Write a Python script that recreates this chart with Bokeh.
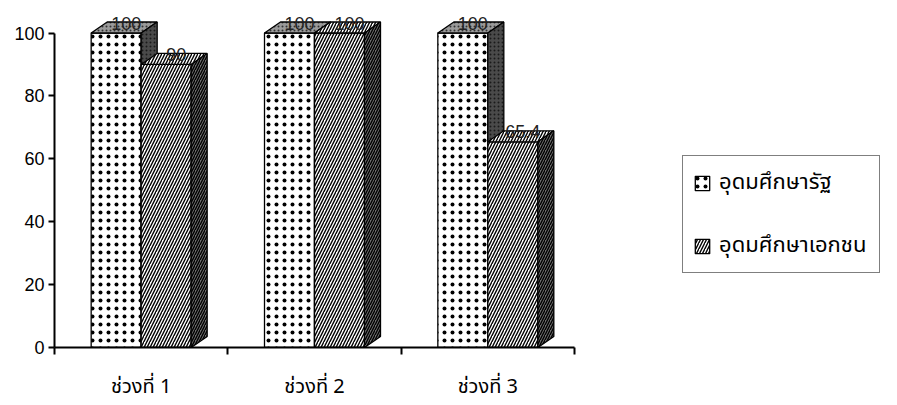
from bokeh.plotting import figure
from bokeh.models import Range1d, FixedTicker, Legend, LegendItem, ColumnDataSource, LinearAxis
from bokeh.embed import file_html
from bokeh.resources import INLINE
from bokeh.core.properties import value

# ---- data ----
categories = ["ช่วงที่ 1", "ช่วงที่ 2", "ช่วงที่ 3"]
public_values = [100, 100, 100]
private_values = [90, 100, 65.4]
series_names = ["อุดมศึกษารัฐ", "อุดมศึกษาเอกชน"]
y_ticks = [0, 20, 40, 60, 80, 100]

# ---- layout ----
W, H = 897, 405
BL, BB, BT, BR = 54, 58, 0, 0
FW, FH = W - BL - BR, H - BB - BT
PX_Y = 3.145                       # pixels per value unit
PX_X = 520 / len(categories)       # pixels per category
Y_END = FH / PX_Y
X_END = FW / PX_X
BAR_W = 50 / PX_X
DX = 16 / PX_X
DY = 11 / PX_Y

NUM_FONT = "'Liberation Sans', Arial, sans-serif"
THAI_FONT = "'Noto Sans Thai', 'Noto Sans', 'DejaVu Sans', sans-serif"

p = figure(width=W, height=H, x_range=Range1d(0, X_END), y_range=Range1d(0, Y_END),
           output_backend="svg", toolbar_location=None,
           min_border_left=BL, min_border_right=BR, min_border_top=BT, min_border_bottom=BB,
           x_axis_type=None, y_axis_type=None)
p.outline_line_color = None
p.xgrid.visible = False
p.ygrid.visible = False
p.background_fill_color = "white"
p.border_fill_color = "white"


def faces(lefts, vals):
    front_x, front_y, top_x, top_y, side_x, side_y = [], [], [], [], [], []
    for xl, v in zip(lefts, vals):
        xr = xl + BAR_W
        front_x.append([xl, xr, xr, xl]); front_y.append([0, 0, v, v])
        top_x.append([xl, xr, xr + DX, xl + DX]); top_y.append([v, v, v + DY, v + DY])
        side_x.append([xr, xr + DX, xr + DX, xr]); side_y.append([0, DY, v + DY, v])
    return (front_x, front_y), (top_x, top_y), (side_x, side_y)


centers = [i + 0.5 for i in range(len(categories))]
styles = [
    dict(front=dict(fill_color="white", hatch_pattern="dot", hatch_scale=8, hatch_weight=0.9, hatch_color="black"),
         top=dict(fill_color="#9a9a9a", hatch_pattern="dot", hatch_scale=4, hatch_weight=0.8, hatch_color="#333333"),
         side=dict(fill_color="#4a4a4a", hatch_pattern="dot", hatch_scale=4, hatch_weight=0.8, hatch_color="#1a1a1a")),
    dict(front=dict(fill_color="white", hatch_pattern="right_diagonal_line", hatch_scale=6, hatch_weight=1.4, hatch_color="black"),
         top=dict(fill_color="white", hatch_pattern="right_diagonal_line", hatch_scale=6, hatch_weight=1.4, hatch_color="black"),
         side=dict(fill_color="#707070", hatch_pattern="right_diagonal_line", hatch_scale=5, hatch_weight=1.4, hatch_color="black")),
]

front_renderers = []
for s, vals in enumerate([public_values, private_values]):
    lefts = [c - BAR_W if s == 0 else c for c in centers]
    f, t, sd = faces(lefts, vals)
    rf = p.patches(f[0], f[1], line_color="black", line_width=1.3, **styles[s]["front"])
    p.patches(t[0], t[1], line_color="black", line_width=1.3, **styles[s]["top"])
    p.patches(sd[0], sd[1], line_color="black", line_width=1.3, **styles[s]["side"])
    front_renderers.append(rf)

# value labels
for s, vals in enumerate([public_values, private_values]):
    lx = [c - BAR_W / 2 if s == 0 else c + BAR_W / 2 for c in centers]
    src = ColumnDataSource(dict(x=lx, y=vals, t=[f"{v:g}" for v in vals]))
    p.text(x="x", y="y", text="t", source=src, x_offset=10, y_offset=-10,
           text_align="center", text_baseline="alphabetic",
           text_font=value(NUM_FONT), text_font_size="18px", text_color="#222222")

# axes
xaxis = LinearAxis(ticker=FixedTicker(ticks=centers, minor_ticks=list(range(len(categories) + 1))),
                   bounds=(0, len(categories)))
xaxis.major_label_overrides = {c: lab for c, lab in zip(centers, categories)}
xaxis.major_tick_in = 0
xaxis.major_tick_out = 0
xaxis.minor_tick_in = 0
xaxis.minor_tick_out = 7
xaxis.minor_tick_line_width = 2
xaxis.minor_tick_line_color = "black"
xaxis.axis_line_width = 2
xaxis.axis_line_color = "black"
xaxis.major_label_standoff = 17
xaxis.major_label_text_font = THAI_FONT
xaxis.major_label_text_font_size = "20px"
xaxis.major_label_text_color = "black"
p.add_layout(xaxis, "below")

yaxis = LinearAxis(ticker=FixedTicker(ticks=y_ticks), bounds=(0, 100))
yaxis.major_tick_in = 0
yaxis.major_tick_out = 6
yaxis.major_tick_line_width = 2
yaxis.minor_tick_line_color = None
yaxis.axis_line_width = 2
yaxis.axis_line_color = "black"
yaxis.major_label_standoff = 4
yaxis.major_label_text_font = NUM_FONT
yaxis.major_label_text_font_size = "18px"
yaxis.major_label_text_color = "black"
p.add_layout(yaxis, "left")

legend = Legend(items=[LegendItem(label=series_names[i], renderers=[front_renderers[i]]) for i in range(2)],
                location=(628, 74), orientation="vertical")
legend.border_line_color = "black"
legend.border_line_width = 1.5
legend.background_fill_color = "white"
legend.background_fill_alpha = 1
legend.margin = 0
legend.padding = 10
legend.spacing = 30
legend.glyph_width = 18
legend.glyph_height = 18
legend.label_height = 30
legend.label_width = 150
legend.label_standoff = 8
legend.label_text_font = THAI_FONT
legend.label_text_font_size = "22px"
legend.label_text_color = "black"
p.add_layout(legend)

open("out.html", "w").write(file_html(p, INLINE))
